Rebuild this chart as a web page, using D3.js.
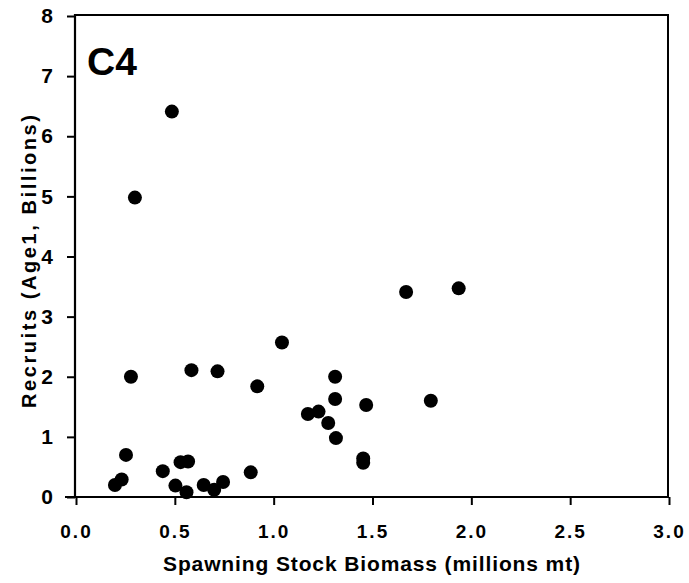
<!DOCTYPE html>
<html>
<head>
<meta charset="utf-8">
<script src="https://cdn.jsdelivr.net/npm/d3@7"></script>
<style>
  html, body { margin: 0; padding: 0; background: #fff; }
  svg { display: block; }
  text { font-family: "Liberation Sans", Arial, sans-serif; font-weight: bold; fill: #000; }
</style>
</head>
<body>
<svg id="chart" width="689" height="583"></svg>
<script>
// Spawning stock biomass (millions mt)
const ssb = [0.485, 0.298, 0.278, 0.584, 0.716, 0.917, 1.042, 1.311, 1.311, 1.173,
             1.227, 1.276, 1.315, 1.468, 1.453, 1.453, 1.670, 1.936, 1.795, 0.253,
             0.231, 0.197, 0.439, 0.529, 0.567, 0.503, 0.559, 0.646, 0.699, 0.744, 0.884];
// Recruits (Age1, billions)
const recruits = [6.41, 4.98, 2.00, 2.11, 2.09, 1.84, 2.57, 2.00, 1.63, 1.38,
                  1.42, 1.23, 0.98, 1.53, 0.57, 0.64, 3.41, 3.47, 1.60, 0.70,
                  0.29, 0.20, 0.43, 0.58, 0.59, 0.19, 0.08, 0.20, 0.12, 0.25, 0.41];
const xTicks = [0, 0.5, 1.0, 1.5, 2.0, 2.5, 3.0];
const yTicks = [0, 1, 2, 3, 4, 5, 6, 7, 8];
const panelLabel = "C4";
const xTitle = "Spawning Stock Biomass (millions mt)";
const yTitle = "Recruits (Age1, Billions)";

const svg = d3.select("#chart");
const L = 75, R = 669, T = 16, B = 497;
const x = d3.scaleLinear().domain([0, 3]).range([L + 1, R]);
const y = d3.scaleLinear().domain([0, 8]).range([B, T]);

// frame (top and right)
svg.append("line").attr("x1", L).attr("x2", R).attr("y1", T - 1).attr("y2", T - 1)
  .attr("stroke", "#000").attr("stroke-width", 2);
svg.append("line").attr("x1", R - 1).attr("x2", R - 1).attr("y1", T - 2).attr("y2", B)
  .attr("stroke", "#000").attr("stroke-width", 2);

// y axis
const ya = svg.append("g").attr("transform", `translate(${L},0)`)
  .call(d3.axisLeft(y).tickValues(yTicks).tickFormat(d3.format("d")).tickSizeOuter(0).tickSize(8).tickPadding(14));
ya.select(".domain").attr("stroke-width", 2.2).attr("d", `M0,${T - 2}V${B + 1}`);
ya.selectAll(".tick line").attr("stroke-width", 2);
ya.selectAll(".tick text").style("font-size", "21px").style("font-family", "'Liberation Sans', Arial, sans-serif").style("font-weight", "bold");

// x axis
const xa = svg.append("g").attr("transform", `translate(0,${B})`)
  .call(d3.axisBottom(x).tickValues(xTicks).tickFormat(d3.format(".1f")).tickSizeOuter(0).tickSize(8).tickPadding(20));
xa.select(".domain").attr("stroke-width", 2.2).attr("d", `M${L - 10},0H${R}`);
xa.selectAll(".tick line").attr("stroke-width", 2);
xa.selectAll(".tick text").style("font-size", "19px").style("letter-spacing", "2px")
  .style("font-family", "'Liberation Sans', Arial, sans-serif").style("font-weight", "bold");

// points
svg.append("g").selectAll("circle")
  .data(ssb.map((v, i) => [v, recruits[i]]))
  .join("circle")
  .attr("cx", d => x(d[0]))
  .attr("cy", d => y(d[1]))
  .attr("r", 7)
  .attr("fill", "#000");

// panel label
svg.append("text").attr("x", 87).attr("y", 75).style("font-size", "39px").text(panelLabel);

// axis titles
svg.append("text").attr("x", 163).attr("y", 571)
  .attr("textLength", 417).attr("lengthAdjust", "spacing")
  .style("font-size", "21px").text(xTitle);
svg.append("text").attr("transform", "translate(36,408) rotate(-90)")
  .attr("textLength", 293).attr("lengthAdjust", "spacing")
  .style("font-size", "20px").text(yTitle);
</script>
</body>
</html>
